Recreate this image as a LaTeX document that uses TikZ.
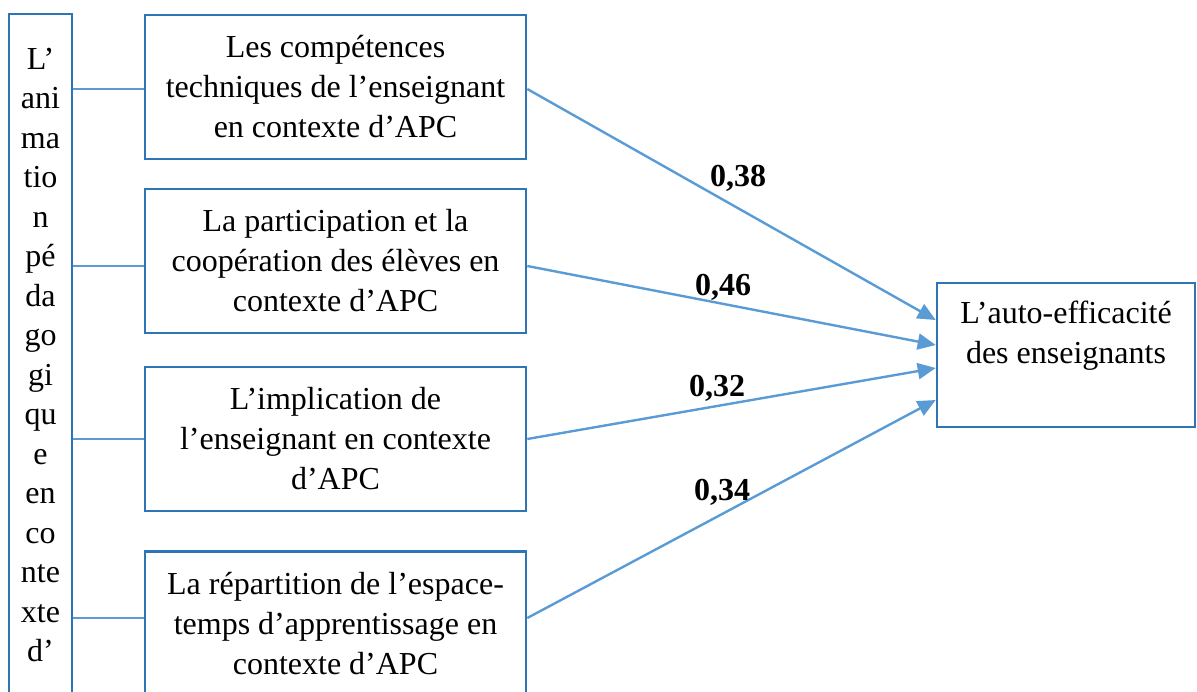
\documentclass[tikz,border=0pt]{standalone}
\usepackage{fontspec}
\setmainfont{Liberation Serif}
\usetikzlibrary{arrows.meta,calc}
\definecolor{boxblue}{HTML}{2E75B6}
\definecolor{arrblue}{HTML}{5B9BD5}
\tikzset{
  bigfont/.style={font=\fontsize{32}{40}\selectfont},
  box/.style={draw=boxblue, line width=2.6pt, minimum width=381pt, minimum height=144pt,
    align=center, inner sep=0pt, bigfont},
  conn/.style={draw=arrblue, line width=1.3pt},
  arr/.style={draw=arrblue, line width=2.4pt, -{Triangle[length=18pt,width=16pt]}},
  coef/.style={font=\fontsize{32}{40}\selectfont\bfseries, inner sep=0pt},
}
\begin{document}
\begin{tikzpicture}[x=1pt,y=-1pt]
\useasboundingbox (0,0) rectangle (1197,691);
% left vertical box
\node[draw=boxblue, line width=2.6pt, minimum width=63pt, minimum height=706pt, inner sep=0pt] (lb) at (40.5,367) {};
\node[anchor=north, align=center, inner sep=0pt, font=\fontsize{32}{39.5}\selectfont] (lbtxt) at (40.5,48)
  {L’\\ani\\ma\\tio\\n\\pé\\da\\go\\gi\\qu\\e\\en\\co\\nte\\xte\\d’};
% four boxes
\node[box] (b1) at (335.5,87) {Les compétences\\techniques de l’enseignant\\en contexte d’APC};
\node[box] (b2) at (335.5,261) {La participation et la\\coopération des élèves en\\contexte d’APC};
\node[box] (b3) at (335.5,439) {L’implication de\\l’enseignant en contexte\\d’APC};
\node[box] (b4) at (335.5,623.5) {La répartition de l’espace-\\temps d’apprentissage en\\contexte d’APC};
% outcome box
\node[draw=boxblue, line width=2.6pt, minimum width=258pt, minimum height=144pt, inner sep=0pt] (out) at (1066,355) {};
\node[anchor=north, align=center, inner sep=0pt, bigfont] (outtxt) at (1066,301) {L’auto-efficacité\\des enseignants};
% connection points
\coordinate (b1w) at ([yshift=-2pt]b1.west);
\coordinate (b2w) at ([yshift=-5pt]b2.west);
\coordinate (b3w) at (b3.west);
\coordinate (b4w) at ([yshift=5.5pt]b4.west);
\coordinate (b1e) at ([yshift=-2pt]b1.east);
\coordinate (b2e) at ([yshift=-5pt]b2.east);
\coordinate (b3e) at (b3.east);
\coordinate (b4e) at ([yshift=5.5pt]b4.east);
\coordinate (o1) at ([yshift=35pt]out.west);
\coordinate (o2) at ([yshift=10pt]out.west);
\coordinate (o3) at ([yshift=-13pt]out.west);
\coordinate (o4) at ([yshift=-45pt]out.west);
% left connectors
\draw[conn] (b1w -| lb.east) -- (b1w);
\draw[conn] (b2w -| lb.east) -- (b2w);
\draw[conn] (b3w -| lb.east) -- (b3w);
\draw[conn] (b4w -| lb.east) -- (b4w);
% arrows
\draw[arr] (b1e) -- (o1);
\draw[arr] (b2e) -- (o2);
\draw[arr] (b3e) -- (o3);
\draw[arr] (b4e) -- (o4);
% coefficients
\node[coef] (c1) at (738,178) {0,38};
\node[coef] (c2) at (723,287) {0,46};
\node[coef] (c3) at (717,388) {0,32};
\node[coef] (c4) at (722,492) {0,34};
\end{tikzpicture}
\end{document}
